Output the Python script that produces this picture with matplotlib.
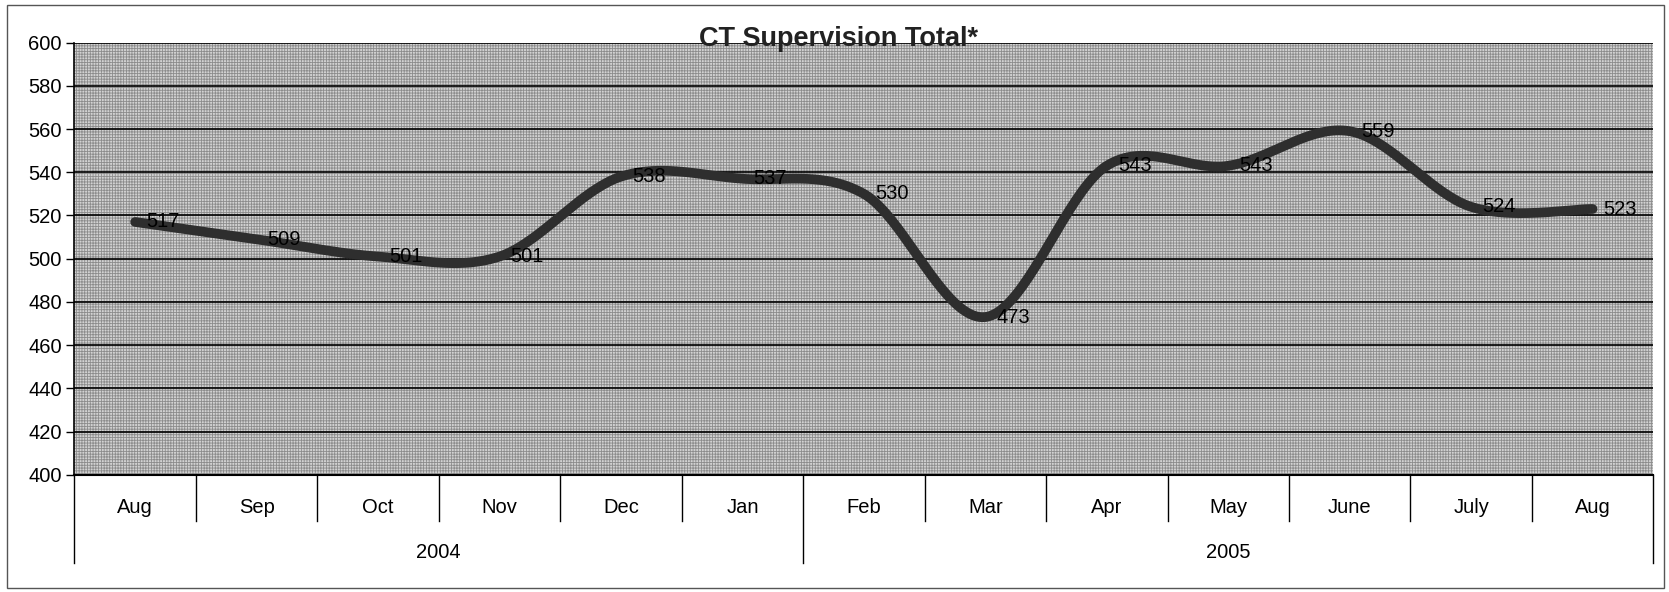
import numpy as np
import matplotlib
matplotlib.use("Agg")
from matplotlib import pyplot as plt
from matplotlib.patches import Rectangle
import matplotlib.transforms as mtransforms

plt.rcParams['font.family'] = ['Liberation Sans', 'DejaVu Sans']
plt.rcParams['hatch.linewidth'] = 0.6

# data
months = ['Aug', 'Sep', 'Oct', 'Nov', 'Dec', 'Jan', 'Feb', 'Mar', 'Apr', 'May', 'June', 'July', 'Aug']
totals = [517, 509, 501, 501, 538, 537, 530, 473, 543, 543, 559, 524, 523]
years = ['2004', '2005']
year_spans = [(0, 5), (6, 12)]   # first and last month index of each year
yticks = [400, 420, 440, 460, 480, 500, 520, 540, 560, 580, 600]


def smooth(xs, ys, n=40):
    # excel-like smoothed line: bezier segments with catmull-rom tangents
    p = np.column_stack([xs, ys]).astype(float)
    p = np.vstack([p[0], p, p[-1]])
    out = []
    t = np.linspace(0, 1, n)[:, None]
    for i in range(1, len(p) - 2):
        p0, p1, p2, p3 = p[i - 1], p[i], p[i + 1], p[i + 2]
        c1 = p1 + (p2 - p0) / 6
        c2 = p2 - (p3 - p1) / 6
        seg = ((1 - t) ** 3) * p1 + 3 * ((1 - t) ** 2) * t * c1 + 3 * (1 - t) * t * t * c2 + t ** 3 * p2
        out.append(seg)
    out = np.vstack(out)
    return out[:, 0], out[:, 1]


fs = 14.5

fig = plt.figure(figsize=(16.69, 5.92), dpi=100)
ax = fig.add_axes([0.0446, 0.198, 0.946, 0.730])

x = np.arange(len(months))
ax.set_xlim(-0.5, len(months) - 0.5)
ax.set_ylim(400, 600)

# textured grey plot area
ax.set_facecolor('#d2d2d2')
ax.add_patch(Rectangle((0, 0), 1, 1, transform=ax.transAxes, facecolor='none',
                       edgecolor='#8c8c8c', hatch='++++++', linewidth=0, zorder=0.5))

for v in yticks:
    ax.axhline(v, color='black', lw=1.2, zorder=1)

sx, sy = smooth(x, totals)
ax.plot(sx, sy, color='#2e2e2e', lw=7, solid_capstyle='round', zorder=3)

for xi, v in zip(x, totals):
    ax.annotate(str(v), (xi, v), xytext=(8, 0), textcoords='offset points',
                ha='left', va='center', fontsize=fs, color='black', zorder=4)

ax.set_yticks(yticks)
ax.set_yticklabels([str(v) for v in yticks], fontsize=fs)
ax.tick_params(axis='y', length=6, width=1, pad=3)
ax.set_xticks([])
for s in ['top', 'right']:
    ax.spines[s].set_visible(False)
ax.spines['left'].set_linewidth(1.2)
ax.spines['bottom'].set_linewidth(1.5)

# category axis: month row and year row
trans = mtransforms.blended_transform_factory(ax.transData, ax.transAxes)
for i in range(len(months) + 1):
    xb = i - 0.5
    is_year_edge = xb in (-0.5, year_spans[0][1] + 0.5, len(months) - 0.5)
    y_end = -0.205 if is_year_edge else -0.108
    ax.plot([xb, xb], [0, y_end], transform=trans, color='black', lw=1, clip_on=False)
for xi, m in zip(x, months):
    ax.text(xi, -0.075, m, transform=trans, ha='center', va='center', fontsize=fs)
for yr, (a, b) in zip(years, year_spans):
    ax.text((a + b) / 2, -0.18, yr, transform=trans, ha='center', va='center', fontsize=fs)

ax.text(0.484, 0.992, 'CT Supervision Total*', transform=ax.transAxes, ha='center',
        va='baseline', fontsize=19.5, fontweight='bold', color='#222222', zorder=5)

# outer chart border
fig.patches.append(Rectangle((0.004, 0.007), 0.993, 0.984, transform=fig.transFigure,
                             fill=False, edgecolor='#555555', lw=1))

fig.savefig('out.png', dpi=100)
